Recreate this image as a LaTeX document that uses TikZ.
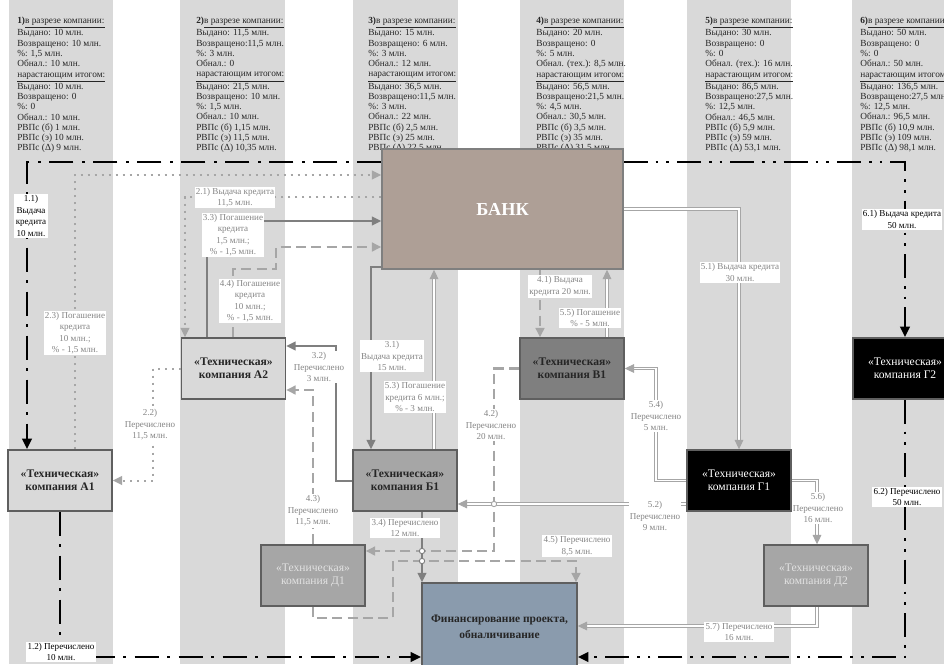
\documentclass[tikz,border=0pt]{standalone}
\usepackage{fontspec}
\setmainfont{Liberation Serif}
\usetikzlibrary{arrows.meta}
\pgfdeclarelayer{bg}
\pgfdeclarelayer{ln}
\pgfsetlayers{bg,ln,main}
\definecolor{stripe}{HTML}{D9D9D9}
\definecolor{lgray}{HTML}{A6A6A6}
\definecolor{mgray}{HTML}{7F7F7F}
\definecolor{bankfill}{HTML}{AE9F96}
\definecolor{finfill}{HTML}{8A9BAD}
\definecolor{bordergray}{HTML}{5F5F5F}
\definecolor{labgray}{HTML}{858585}
\definecolor{txtdark}{HTML}{262626}
\definecolor{dtext}{HTML}{E2E2E2}
\newcommand{\colhd}[1]{\textbf{#1)}\underline{в разрезе компании:}}
\newcommand{\colmid}{\underline{нарастающим итогом:}}
\begin{document}
\begin{tikzpicture}[x=0.75pt,y=-0.75pt,
  coltext/.style={anchor=north west, inner sep=0pt, align=left, font=\fontsize{7}{7.7}\selectfont, text=txtdark},
  lab/.style={fill=white, inner sep=1pt, align=center, font=\fontsize{6.8}{8.6}\selectfont, text=labgray},
  blab/.style={lab, text=black},
  box/.style={draw=bordergray, line width=1.1pt, minimum width=78pt, minimum height=45.75pt, inner sep=0pt, align=center, font=\fontsize{8.7}{10}\selectfont},
  boxb/.style={box, font=\bfseries\fontsize{8.7}{10}\selectfont, text=txtdark},
  tipa/.style={-{Triangle[length=7pt,width=6.5pt]}},
  s1/.style={black, line width=2pt, dash pattern=on 18pt off 6.5pt on 2pt off 6.5pt, -{Triangle[length=8pt,width=7pt]}},
  s6/.style={black, line width=2pt, dash pattern=on 18pt off 6pt on 2pt off 6pt on 2pt off 6pt, -{Triangle[length=8pt,width=7pt]}},
  s2/.style={lgray, line width=1.5pt, dash pattern=on 1.5pt off 3.75pt, tipa},
  s3/.style={mgray, line width=1.5pt, tipa},
  s4/.style={lgray, line width=1.8pt, dash pattern=on 7.5pt off 4pt, tipa},
  s5/.style={lgray, double=white, double distance=1.2pt, line width=0.75pt, tipa},
  hopmark/.style={line width=0.7pt, fill=white}
]
\useasboundingbox (0,0) rectangle (944,664);
\begin{pgfonlayer}{bg}
\fill[white] (0,0) rectangle (944,664);
\foreach \a/\b in {9/113,180/285,353/458,520/624,687/791,852/956}
  \fill[stripe] (\a,0) rectangle (\b,664);
\end{pgfonlayer}

% column texts
\node[coltext] (c1) at (17,17) {\colhd{1}\\Выдано: 10 млн.\\Возвращено: 10 млн.\\\%: 1,5 млн.\\Обнал.: 10 млн.\\\colmid\\Выдано: 10 млн.\\Возвращено: 0\\\%: 0\\Обнал.: 10 млн.\\РВПс (б) 1 млн.\\РВПс (э) 10 млн.\\РВПс (Δ) 9 млн.};
\node[coltext] (c2) at (196,17) {\colhd{2}\\Выдано: 11,5 млн.\\Возвращено:11,5 млн.\\\%: 3 млн.\\Обнал.: 0\\\colmid\\Выдано: 21,5 млн.\\Возвращено: 10 млн.\\\%: 1,5 млн.\\Обнал.: 10 млн.\\РВПс (б) 1,15 млн.\\РВПс (э) 11,5 млн.\\РВПс (Δ) 10,35 млн.};
\node[coltext] (c3) at (368,17) {\colhd{3}\\Выдано: 15 млн.\\Возвращено: 6 млн.\\\%: 3 млн.\\Обнал.: 12 млн.\\\colmid\\Выдано: 36,5 млн.\\Возвращено:11,5 млн.\\\%: 3 млн.\\Обнал.: 22 млн.\\РВПс (б) 2,5 млн.\\РВПс (э) 25 млн.\\РВПс (Δ) 22,5 млн.};
\node[coltext] (c4) at (536,17) {\colhd{4}\\Выдано: 20 млн.\\Возвращено: 0\\\%: 5 млн.\\Обнал. (тех.): 8,5 млн.\\\colmid\\Выдано: 56,5 млн.\\Возвращено:21,5 млн.\\\%: 4,5 млн.\\Обнал.: 30,5 млн.\\РВПс (б) 3,5 млн.\\РВПс (э) 35 млн.\\РВПс (Δ) 31,5 млн.};
\node[coltext] (c5) at (705,17) {\colhd{5}\\Выдано: 30 млн.\\Возвращено: 0\\\%: 0\\Обнал. (тех.): 16 млн.\\\colmid\\Выдано: 86,5 млн.\\Возвращено:27,5 млн.\\\%: 12,5 млн.\\Обнал.: 46,5 млн.\\РВПс (б) 5,9 млн.\\РВПс (э) 59 млн.\\РВПс (Δ) 53,1 млн.};
\node[coltext] (c6) at (860,17) {\colhd{6}\\Выдано: 50 млн.\\Возвращено: 0\\\%: 0\\Обнал.: 50 млн.\\\colmid\\Выдано: 136,5 млн.\\Возвращено:27,5 млн.\\\%: 12,5 млн.\\Обнал.: 96,5 млн.\\РВПс (б) 10,9 млн.\\РВПс (э) 109 млн.\\РВПс (Δ) 98,1 млн.};

% boxes
\node[box, fill=bankfill, draw=mgray, minimum width=180.75pt, minimum height=90pt, text=white, font=\bfseries\fontsize{13.7}{16}\selectfont] (bank) at (502.5,209) {БАНК};
\node[box, fill=finfill, minimum width=116.25pt, minimum height=66pt, text=txtdark, font=\bfseries\fontsize{8.6}{12}\selectfont] (fin) at (499.5,627) {Финансирование проекта,\\обналичивание};
\node[boxb, fill=stripe] (A1) at (60,480.5) {«Техническая»\\компания А1};
\node[boxb, fill=stripe] (A2) at (233.5,368.5) {«Техническая»\\компания А2};
\node[boxb, fill=lgray] (B1) at (405,480.5) {«Техническая»\\компания Б1};
\node[boxb, fill=mgray] (V1) at (572,368.5) {«Техническая»\\компания В1};
\node[box, fill=black, text=white] (G1) at (739,480.5) {«Техническая»\\компания Г1};
\node[box, fill=black, text=white] (G2) at (905,368.5) {«Техническая»\\компания Г2};
\node[box, fill=lgray, text=dtext] (D1) at (313,575.5) {«Техническая»\\компания Д1};
\node[box, fill=lgray, text=dtext] (D2) at (816,575.5) {«Техническая»\\компания Д2};

\begin{pgfonlayer}{ln}
% step 1
\draw[s1] (bank.west |- 0,162) -- (27,162) -- (27,0 |- A1.north);
\draw[s1] (A1.south) -- (60,657) -- (fin.west |- 0,657);
% step 6
\draw[s6] (bank.east |- 0,162) -- (905,162) -- (G2.north);
\draw[s6] (G2.south) -- (905,657) -- (fin.east |- 0,657);
% step 2
\draw[s2] (bank.west |- 0,197) -- (185,197) -- (185,0 |- A2.north);
\draw[s2] (A2.west) -- (153,368.5) -- (153,480.5) -- (A1.east);
\draw[s2] (75,0 |- A1.north) -- (75,175) -- (bank.west |- 0,175);
% step 3
\draw[s3] (bank.west |- 0,267) -- (371,267) -- (371,0 |- B1.north);
\draw[s3] (B1.west) -- (336,480.5) -- (336,346) -- (A2.east |- 0,346);
\draw[s3] (207,0 |- A2.north) -- (207,221) -- (bank.west |- 0,221);
\draw[s3] (422,0 |- B1.south) -- (422,0 |- fin.north);
% step 4
\draw[s4] (540,0 |- bank.south) -- (540,0 |- V1.north);
\draw[s4] (V1.west) -- (494,368.5) -- (494,551) -- (D1.east |- 0,551);
\draw[s4] (313,0 |- D1.north) -- (313,390) -- (A2.east |- 0,390);
\draw[s4] (233,0 |- A2.north) -- (233,269) -- (276,269) -- (276,247) -- (bank.west |- 0,247);
\draw[s4] (313,0 |- D1.south) -- (313,618) -- (393,618) -- (393,561) -- (576,561) -- (576,0 |- fin.north);
% step 5
\draw[s5] (bank.east) -- (739,209) -- (G1.north);
\draw[s5] (G1.west |- 0,504) -- (B1.east |- 0,504);
\draw[s5] (434,0 |- B1.north) -- (434,0 |- bank.south);
\draw[s5] (G1.west) -- (656,480.5) -- (656,368.5) -- (V1.east);
\draw[s5] (607,0 |- V1.north) -- (607,0 |- bank.south);
\draw[s5] (G1.east) -- (817,480.5) -- (817,0 |- D2.north);
\draw[s5] (817,0 |- D2.south) -- (817,626) -- (fin.east |- 0,626);
% crossing marks
\draw[hopmark, draw=lgray] (494,504) circle[radius=2pt];
\draw[hopmark, draw=mgray] (422,551) circle[radius=2pt];
\draw[hopmark, draw=mgray] (422,561) circle[radius=2pt];
\end{pgfonlayer}

% labels
\node[blab] (l11) at (31,216) {1.1)\\Выдача\\кредита\\10 млн.};
\node[blab] (l12) at (61,652) {1.2) Перечислено\\10 млн.};
\node[lab] (l21) at (235,197.5) {2.1) Выдача кредита\\11,5 млн.};
\node[lab] (l22) at (150,425) {2.2)\\Перечислено\\11,5 млн.};
\node[lab] (l23) at (75,333) {2.3) Погашение\\кредита\\10 млн.;\\\% - 1,5 млн.};
\node[lab] (l31) at (392,356) {3.1)\\Выдача кредита\\15 млн.};
\node[lab] (l32) at (319,367) {3.2)\\Перечислено\\3 млн.};
\node[lab] (l33) at (233,235) {3.3) Погашение\\кредита\\1,5 млн.;\\\% - 1,5 млн.};
\node[lab] (l34) at (405,528) {3.4) Перечислено\\12 млн.};
\node[lab] (l41) at (560,286.5) {4.1) Выдача\\кредита 20 млн.};
\node[lab] (l42) at (491,425) {4.2)\\Перечислено\\20 млн.};
\node[lab] (l43) at (313,511) {4.3)\\Перечислено\\11,5 млн.};
\node[lab] (l44) at (250,301) {4.4) Погашение\\кредита\\10 млн.;\\\% - 1,5 млн.};
\node[lab] (l45) at (577,546) {4.5) Перечислено\\8,5 млн.};
\node[lab] (l51) at (740,272.5) {5.1) Выдача кредита\\30 млн.};
\node[lab] (l52) at (655,516) {5.2)\\Перечислено\\9 млн.};
\node[lab] (l53) at (415,397) {5.3) Погашение\\кредита 6 млн.;\\\% - 3 млн.};
\node[lab] (l54) at (656,416) {5.4)\\Перечислено\\5 млн.};
\node[lab] (l55) at (590,318) {5.5) Погашение\\\% - 5 млн.};
\node[lab] (l56) at (818,508) {5.6)\\Перечислено\\16 млн.};
\node[lab] (l57) at (739,632) {5.7) Перечислено\\16 млн.};
\node[blab] (l61) at (902,219.5) {6.1) Выдача кредита\\50 млн.};
\node[blab] (l62) at (907,497) {6.2) Перечислено\\50 млн.};
\end{tikzpicture}
\end{document}
